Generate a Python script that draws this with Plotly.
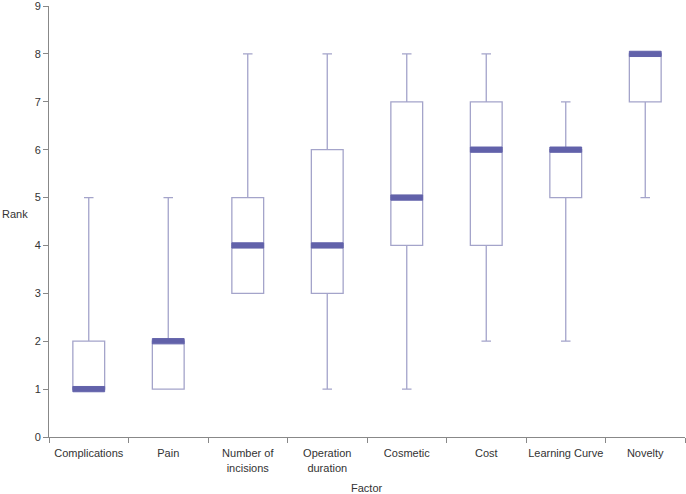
import plotly.graph_objects as go

categories = ["Complications", "Pain", "Number of<br>incisions", "Operation<br>duration",
              "Cosmetic", "Cost", "Learning Curve", "Novelty"]
minimum = [1, 1, 3, 1, 1, 2, 2, 5]
q1 = [1, 1, 3, 3, 4, 4, 5, 7]
median = [1, 2, 4, 4, 5, 6, 6, 8]
q3 = [2, 2, 5, 6, 7, 7, 6, 8]
maximum = [5, 5, 8, 8, 8, 8, 7, 8]
y_ticks = [0, 1, 2, 3, 4, 5, 6, 7, 8, 9]

MED_H = 0.11

fig = go.Figure()
fig.add_trace(go.Box(
    x=categories, q1=q1, median=median, q3=q3,
    lowerfence=minimum, upperfence=maximum,
    width=0.4, whiskerwidth=0.3,
    fillcolor="white",
    line=dict(color="#a4a4ca", width=1.3),
    boxpoints=False, hoverinfo="skip", showlegend=False,
))
# thick median bars drawn as flat boxes on top
med_lo = [m - MED_H / 2 for m in median]
med_hi = [m + MED_H / 2 for m in median]
fig.add_trace(go.Box(
    x=categories, q1=med_lo, median=median, q3=med_hi,
    lowerfence=med_lo, upperfence=med_hi,
    width=0.4, whiskerwidth=0,
    fillcolor="#6262aa",
    line=dict(color="#6262aa", width=1),
    boxpoints=False, hoverinfo="skip", showlegend=False,
))

font = dict(family="Liberation Sans, Arial, Helvetica, sans-serif", size=11, color="#333333")
fig.update_layout(
    width=686, height=494,
    margin=dict(l=49, r=1, t=6, b=57),
    paper_bgcolor="white", plot_bgcolor="white",
    font=font, boxmode="overlay",
    xaxis=dict(
        type="category", range=[-0.5, len(categories) - 0.5],
        tickson="boundaries", ticks="outside", ticklen=5,
        tickcolor="#888888", showline=True, linecolor="#888888", linewidth=1,
        showgrid=False, zeroline=False, tickfont=font, tickangle=0, automargin=False,
        ticklabelstandoff=6,
    ),
    yaxis=dict(
        range=[0, 9], tickvals=y_ticks, ticks="outside", ticklen=5,
        tickcolor="#888888", showline=True, linecolor="#888888", linewidth=1,
        showgrid=False, zeroline=False, tickfont=font, automargin=False,
        ticklabeloverflow="allow",
    ),
    annotations=[
        dict(text="Rank", x=0, xref="paper", xshift=-49, xanchor="left",
             y=4.65, yref="y", showarrow=False, font=font),
        dict(text="Factor", x=0.5, xref="paper", y=0, yref="paper", yshift=-51,
             yanchor="middle", showarrow=False, font=font),
    ],
)

fig.write_html("out.html", post_script="document.body.style.margin='0';",
               config={"displayModeBar": False})
